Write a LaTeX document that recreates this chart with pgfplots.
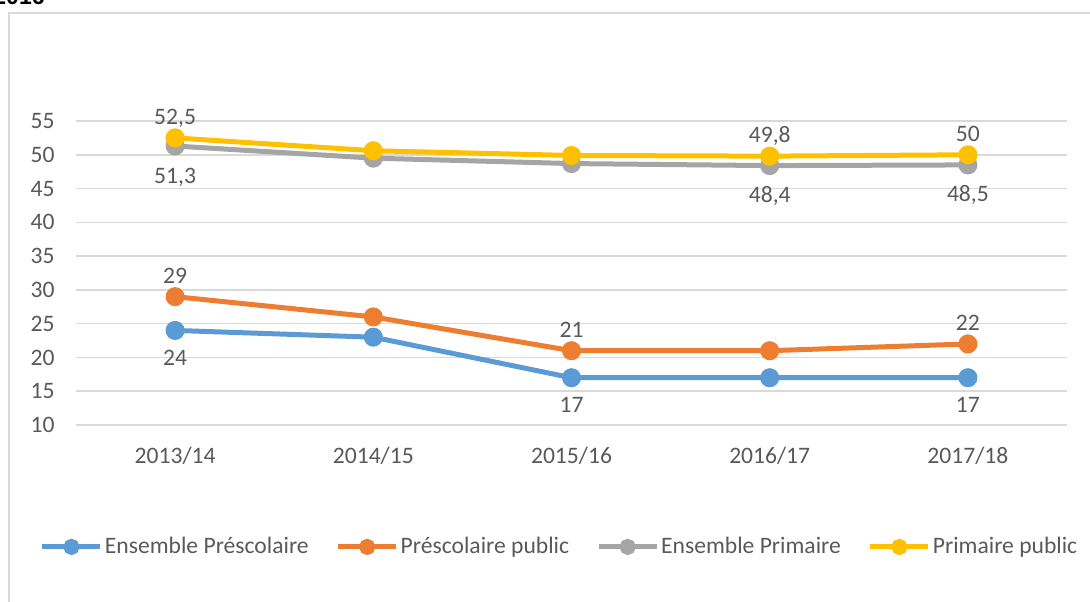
\documentclass[border=0pt]{standalone}
\usepackage{fontspec}
\setmainfont{Carlito}
\newfontfamily\arialfont{Liberation Sans}
\usepackage{pgfplots}
\pgfplotsset{compat=1.18}
\definecolor{cBlue}{HTML}{5B9BD5}
\definecolor{cOrange}{HTML}{ED7D31}
\definecolor{cGray}{HTML}{A5A5A5}
\definecolor{cGold}{HTML}{FFC000}
\definecolor{cText}{HTML}{595959}
\definecolor{cGrid}{HTML}{D9D9D9}
\begin{document}
\begin{tikzpicture}
\useasboundingbox (0,0) rectangle (545pt,300.5pt);
\draw[cGrid, line width=1pt] (4.5pt,-20pt) -- (4.5pt,294pt) -- (600pt,294pt);
\node[anchor=base east, inner sep=0, font=\arialfont\bfseries\fontsize{11.5}{13}\selectfont] at (22.5pt,298pt) {2016};
\begin{axis}[
  at={(38pt,88pt)}, anchor=south west,
  scale only axis, width=495.5pt, height=152pt,
  xmin=-0.5, xmax=4.5, ymin=10, ymax=55,
  xtick={0,1,2,3,4},
  xticklabels={2013/14,2014/15,2015/16,2016/17,2017/18},
  ytick={10,15,...,55},
  major tick length=0pt,
  axis line style={draw=none},
  ymajorgrids, grid style={cGrid, line width=0.75pt},
  /pgf/number format/assume math mode=true,
  tick label style={font=\fontsize{11.8}{14}\selectfont, text=cText, inner sep=0pt},
  xticklabel style={anchor=base, yshift=-19.2pt},
  yticklabel style={anchor=east, xshift=-10.5pt},
  clip=false,
  every axis plot/.append style={line width=2.5pt, mark=*, mark size=3.5pt},
  legend columns=4,
  legend style={draw=none, fill=none, at={(0.488,-0.401)}, anchor=center,
    font=\fontsize{11.8}{14}\selectfont, text=cText,
    /tikz/every even column/.append style={column sep=12.5pt},
    nodes={inner xsep=1pt, inner ysep=0pt}},
  legend image code/.code={\draw[mark repeat=2,mark phase=2,#1, mark size=2.8pt] plot coordinates {(0pt,0pt) (14.5pt,0pt) (29pt,0pt)};},
]
\addplot[color=cBlue, mark options={fill=cBlue, draw=cBlue}] coordinates {(0,24) (1,23) (2,17) (3,17) (4,17)};
\addlegendentry{Ensemble Préscolaire}
\addplot[color=cOrange, mark options={fill=cOrange, draw=cOrange}] coordinates {(0,29) (1,26) (2,21) (3,21) (4,22)};
\addlegendentry{Préscolaire public}
\addplot[color=cGray, mark options={fill=cGray, draw=cGray}] coordinates {(0,51.3) (1,49.5) (2,48.7) (3,48.4) (4,48.5)};
\addlegendentry{Ensemble Primaire}
\addplot[color=cGold, mark options={fill=cGold, draw=cGold}] coordinates {(0,52.5) (1,50.6) (2,49.9) (3,49.8) (4,50)};
\addlegendentry{Primaire public}

\tikzset{lab/.style={inner sep=0pt, text=cText, font=\fontsize{11.8}{14}\selectfont, anchor=base}}
% above labels
\node[lab, yshift=6.8pt] at (axis cs:0,52.5) {52,5};
\node[lab, yshift=6.8pt] at (axis cs:3,49.8) {49,8};
\node[lab, yshift=6.8pt] at (axis cs:4,50) {50};
\node[lab, yshift=6.8pt] at (axis cs:0,29) {29};
\node[lab, yshift=6.8pt] at (axis cs:2,21) {21};
\node[lab, yshift=6.8pt] at (axis cs:4,22) {22};
% below labels
\node[lab, yshift=-18.5pt] at (axis cs:0,51.3) {51,3};
\node[lab, yshift=-18.5pt] at (axis cs:3,48.4) {48,4};
\node[lab, yshift=-18.5pt] at (axis cs:4,48.5) {48,5};
\node[lab, yshift=-17.5pt] at (axis cs:0,24) {24};
\node[lab, yshift=-17.5pt] at (axis cs:2,17) {17};
\node[lab, yshift=-17.5pt] at (axis cs:4,17) {17};
\end{axis}
\end{tikzpicture}
\end{document}
